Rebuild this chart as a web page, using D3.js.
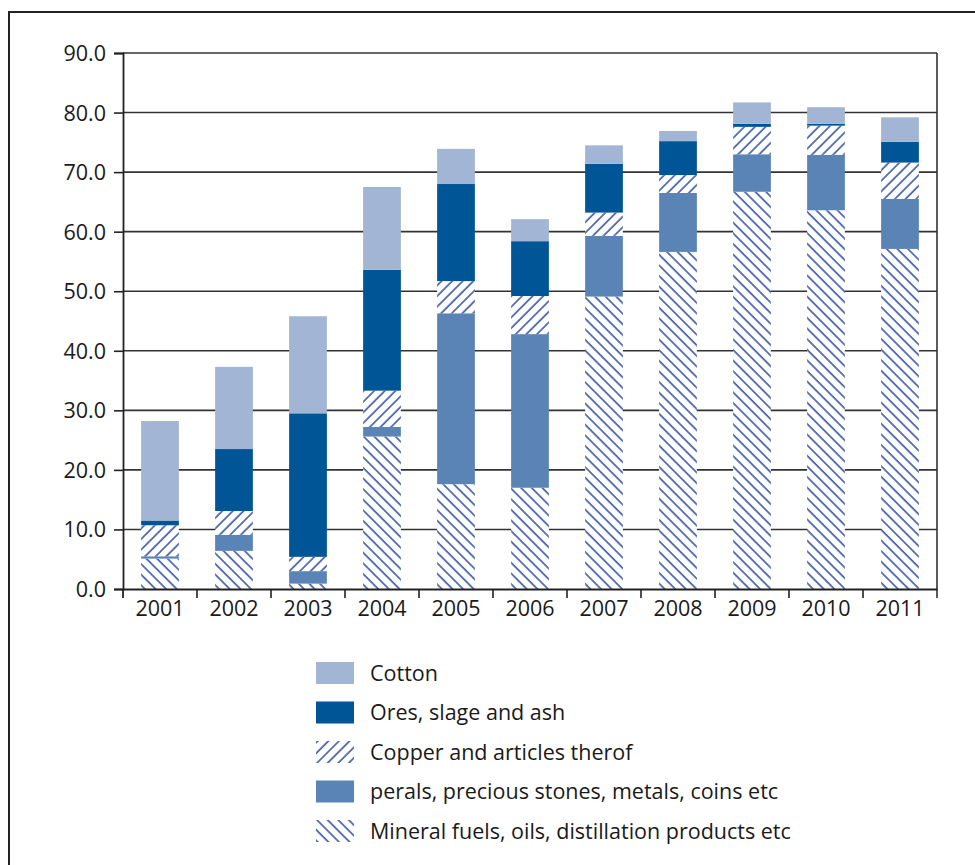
<!DOCTYPE html>
<html>
<head>
<meta charset="utf-8">
<script src="https://cdn.jsdelivr.net/npm/d3@7"></script>
<style>
  html, body { margin: 0; padding: 0; background: #fff; }
  svg { display: block; }
  text { font-family: "Open Sans", "Lato", sans-serif; fill: #1a1a1a; }
</style>
</head>
<body>
<svg id="chart" width="975" height="865"></svg>
<script>
const years = ["2001","2002","2003","2004","2005","2006","2007","2008","2009","2010","2011"];
const mineral = [5.1, 6.4, 0.9, 25.6, 17.6, 17.0, 49.1, 56.6, 66.7, 63.6, 57.1];
const pearls  = [0.4, 2.7, 2.1, 1.6, 28.7, 25.8, 10.2, 9.9, 6.3, 9.3, 8.4];
const copper  = [5.2, 4.0, 2.4, 6.1, 5.4, 6.4, 3.9, 3.0, 4.6, 4.9, 6.1];
const ores    = [0.8, 10.4, 24.1, 20.3, 16.3, 9.2, 8.2, 5.7, 0.5, 0.3, 3.5];
const cotton  = [16.7, 13.8, 16.3, 13.9, 5.9, 3.7, 3.1, 1.7, 3.6, 2.8, 4.1];
const yTicks = [0, 10, 20, 30, 40, 50, 60, 70, 80, 90];

const seriesNames = ["Mineral fuels, oils, distillation products etc",
                     "perals, precious stones, metals, coins etc",
                     "Copper and articles therof",
                     "Ores, slage and ash",
                     "Cotton"];
const keys = ["mineral", "pearls", "copper", "ores", "cotton"];
const fills = {
  mineral: "url(#hatchBack)",
  pearls: "#5b84b6",
  copper: "url(#hatchFwd)",
  ores: "#005596",
  cotton: "#a3b5d5"
};

const table = years.map((yr, i) => ({
  year: yr, mineral: mineral[i], pearls: pearls[i], copper: copper[i], ores: ores[i], cotton: cotton[i]
}));

const svg = d3.select("#chart");
const defs = svg.append("defs");
function hatch(id, angle) {
  const p = defs.append("pattern")
    .attr("id", id).attr("patternUnits", "userSpaceOnUse")
    .attr("width", 7.5).attr("height", 7.5)
    .attr("patternTransform", `rotate(${angle})`);
  p.append("rect").attr("width", 7.5).attr("height", 7.5).attr("fill", "#fff");
  p.append("line").attr("x1", 1).attr("y1", -1).attr("x2", 1).attr("y2", 9)
    .attr("stroke", "#2d4c9f").attr("stroke-width", 1.5);
}
hatch("hatchFwd", 45);
hatch("hatchBack", -45);

// outer frame
svg.append("rect").attr("x", 9).attr("y", 12).attr("width", 1000).attr("height", 900)
  .attr("fill", "none").attr("stroke", "#222").attr("stroke-width", 2);

const pLeft = 123, pRight = 937, pTop = 53, pBottom = 589;
const x = d3.scaleBand().domain(years).range([pLeft, pRight]).paddingInner(0.49).paddingOuter(0.245);
const xb = d3.scaleBand().domain(years).range([pLeft, pRight]);
const y = d3.scaleLinear().domain([0, 90]).range([pBottom, pTop]);

// gridlines
svg.append("g").selectAll("line").data(yTicks.filter(d => d > 0)).join("line")
  .attr("x1", pLeft).attr("x2", pRight)
  .attr("y1", d => y(d)).attr("y2", d => y(d))
  .attr("stroke", "#333").attr("stroke-width", 1.6);

// right edge
svg.append("line").attr("x1", pRight).attr("x2", pRight).attr("y1", pTop).attr("y2", pBottom + 9)
  .attr("stroke", "#333").attr("stroke-width", 1.6);

// stacked bars
const stack = d3.stack().keys(keys)(table);
svg.append("g").selectAll("g").data(stack).join("g")
  .attr("fill", d => fills[d.key])
  .selectAll("rect").data(d => d).join("rect")
  .attr("x", d => x(d.data.year))
  .attr("width", x.bandwidth())
  .attr("y", d => y(d[1]))
  .attr("height", d => y(d[0]) - y(d[1]));

// y axis
const yAxis = svg.append("g").attr("transform", `translate(${pLeft},0)`)
  .call(d3.axisLeft(y).tickValues(yTicks).tickFormat(d3.format(".1f")).tickSize(9).tickPadding(8));
yAxis.select(".domain").attr("stroke", "#222").attr("stroke-width", 1.8);
yAxis.selectAll(".tick line").attr("stroke", "#222").attr("stroke-width", 1.6);
yAxis.selectAll("text").style("font-size", "21.5px").attr("fill", "#1a1a1a").attr("dy", "0.35em");

// x axis
const xAxis = svg.append("g").attr("transform", `translate(0,${pBottom})`)
  .call(d3.axisBottom(xb).tickSize(0).tickPadding(12));
xAxis.select(".domain").attr("stroke", "#222").attr("stroke-width", 1.8);
xAxis.selectAll("text").style("font-size", "21.5px").attr("fill", "#1a1a1a");
// boundary ticks
svg.append("g").selectAll("line").data(years.slice(1)).join("line")
  .attr("x1", d => xb(d)).attr("x2", d => xb(d))
  .attr("y1", pBottom).attr("y2", pBottom + 9)
  .attr("stroke", "#222").attr("stroke-width", 1.6);
svg.append("line").attr("x1", pLeft).attr("x2", pLeft).attr("y1", pBottom).attr("y2", pBottom + 9)
  .attr("stroke", "#222").attr("stroke-width", 1.8);

// legend
const legendOrder = ["cotton", "ores", "copper", "pearls", "mineral"];
const legendY = d3.scalePoint().domain(legendOrder).range([673, 831]);
const lg = svg.append("g").selectAll("g").data(legendOrder).join("g")
  .attr("transform", d => `translate(316,${legendY(d)})`);
lg.append("rect").attr("x", 0).attr("y", -11).attr("width", 38).attr("height", 22)
  .attr("fill", d => fills[d]);
lg.append("text").attr("x", 54).attr("y", 0).attr("dy", "0.35em")
  .style("font-size", "21.5px")
  .text(d => seriesNames[keys.indexOf(d)]);
</script>
</body>
</html>
